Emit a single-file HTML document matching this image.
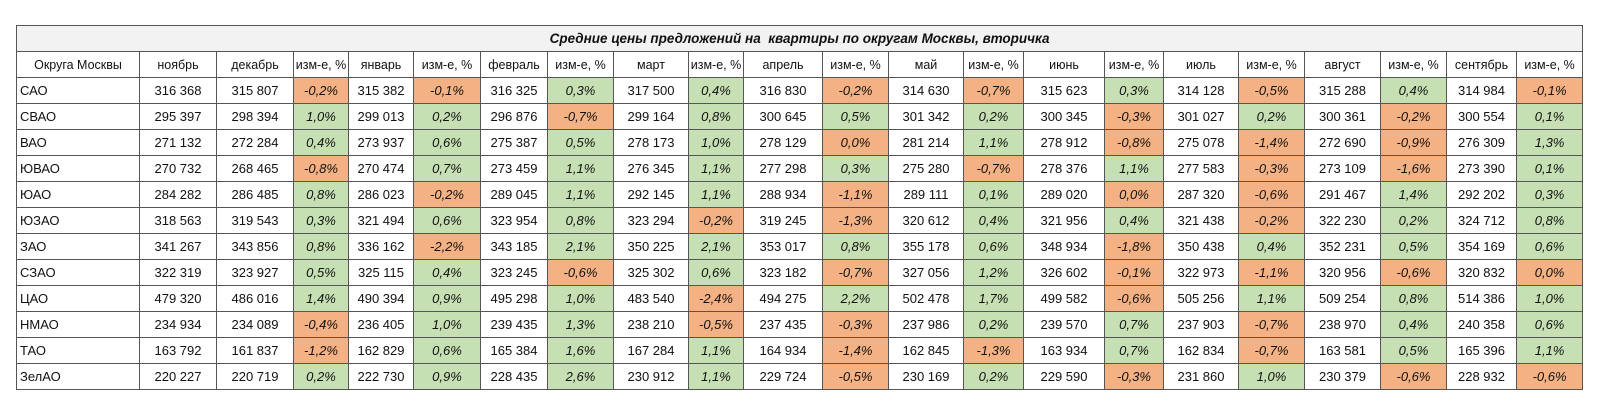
<!DOCTYPE html>
<html><head><meta charset="utf-8"><style>
body{margin:0;background:#fff;width:1600px;height:413px;overflow:hidden}
table{position:absolute;left:16px;top:25px;width:1566px;border-collapse:collapse;table-layout:fixed;font-family:"Liberation Sans",sans-serif;font-size:13px;color:#111}
td{border:1px solid #555;height:25px;padding:0;text-align:center;white-space:nowrap;overflow:hidden}
td.l{text-align:left;padding-left:3px}
.t td{background:#f2f2f2;font-weight:bold;font-style:italic;font-size:13.5px}
.h td{font-size:12.5px}
.o{background:#f4b183;font-style:italic}
.g{background:#c6e0b4;font-style:italic}
</style></head><body>
<table>
<colgroup>
<col style="width:123px"><col style="width:77px"><col style="width:77px"><col style="width:55px"><col style="width:65px"><col style="width:67px"><col style="width:67px"><col style="width:66px"><col style="width:75px"><col style="width:55px"><col style="width:79px"><col style="width:66px"><col style="width:75px"><col style="width:60px"><col style="width:81px"><col style="width:59px"><col style="width:75px"><col style="width:66px"><col style="width:76px"><col style="width:66px"><col style="width:70px"><col style="width:66px">
</colgroup>
<tr class="t"><td colspan="22">Средние цены предложений на&nbsp; квартиры по округам Москвы, вторичка</td></tr>
<tr class="h"><td>Округа Москвы</td><td>ноябрь</td><td>декабрь</td><td>изм-е, %</td><td>январь</td><td>изм-е, %</td><td>февраль</td><td>изм-е, %</td><td>март</td><td>изм-е, %</td><td>апрель</td><td>изм-е, %</td><td>май</td><td>изм-е, %</td><td>июнь</td><td>изм-е, %</td><td>июль</td><td>изм-е, %</td><td>август</td><td>изм-е, %</td><td>сентябрь</td><td>изм-е, %</td></tr>
<tr><td class="l">САО</td><td>316 368</td><td>315 807</td><td class="o">-0,2%</td><td>315 382</td><td class="o">-0,1%</td><td>316 325</td><td class="g">0,3%</td><td>317 500</td><td class="g">0,4%</td><td>316 830</td><td class="o">-0,2%</td><td>314 630</td><td class="o">-0,7%</td><td>315 623</td><td class="g">0,3%</td><td>314 128</td><td class="o">-0,5%</td><td>315 288</td><td class="g">0,4%</td><td>314 984</td><td class="o">-0,1%</td></tr>
<tr><td class="l">СВАО</td><td>295 397</td><td>298 394</td><td class="g">1,0%</td><td>299 013</td><td class="g">0,2%</td><td>296 876</td><td class="o">-0,7%</td><td>299 164</td><td class="g">0,8%</td><td>300 645</td><td class="g">0,5%</td><td>301 342</td><td class="g">0,2%</td><td>300 345</td><td class="o">-0,3%</td><td>301 027</td><td class="g">0,2%</td><td>300 361</td><td class="o">-0,2%</td><td>300 554</td><td class="g">0,1%</td></tr>
<tr><td class="l">ВАО</td><td>271 132</td><td>272 284</td><td class="g">0,4%</td><td>273 937</td><td class="g">0,6%</td><td>275 387</td><td class="g">0,5%</td><td>278 173</td><td class="g">1,0%</td><td>278 129</td><td class="o">0,0%</td><td>281 214</td><td class="g">1,1%</td><td>278 912</td><td class="o">-0,8%</td><td>275 078</td><td class="o">-1,4%</td><td>272 690</td><td class="o">-0,9%</td><td>276 309</td><td class="g">1,3%</td></tr>
<tr><td class="l">ЮВАО</td><td>270 732</td><td>268 465</td><td class="o">-0,8%</td><td>270 474</td><td class="g">0,7%</td><td>273 459</td><td class="g">1,1%</td><td>276 345</td><td class="g">1,1%</td><td>277 298</td><td class="g">0,3%</td><td>275 280</td><td class="o">-0,7%</td><td>278 376</td><td class="g">1,1%</td><td>277 583</td><td class="o">-0,3%</td><td>273 109</td><td class="o">-1,6%</td><td>273 390</td><td class="g">0,1%</td></tr>
<tr><td class="l">ЮАО</td><td>284 282</td><td>286 485</td><td class="g">0,8%</td><td>286 023</td><td class="o">-0,2%</td><td>289 045</td><td class="g">1,1%</td><td>292 145</td><td class="g">1,1%</td><td>288 934</td><td class="o">-1,1%</td><td>289 111</td><td class="g">0,1%</td><td>289 020</td><td class="o">0,0%</td><td>287 320</td><td class="o">-0,6%</td><td>291 467</td><td class="g">1,4%</td><td>292 202</td><td class="g">0,3%</td></tr>
<tr><td class="l">ЮЗАО</td><td>318 563</td><td>319 543</td><td class="g">0,3%</td><td>321 494</td><td class="g">0,6%</td><td>323 954</td><td class="g">0,8%</td><td>323 294</td><td class="o">-0,2%</td><td>319 245</td><td class="o">-1,3%</td><td>320 612</td><td class="g">0,4%</td><td>321 956</td><td class="g">0,4%</td><td>321 438</td><td class="o">-0,2%</td><td>322 230</td><td class="g">0,2%</td><td>324 712</td><td class="g">0,8%</td></tr>
<tr><td class="l">ЗАО</td><td>341 267</td><td>343 856</td><td class="g">0,8%</td><td>336 162</td><td class="o">-2,2%</td><td>343 185</td><td class="g">2,1%</td><td>350 225</td><td class="g">2,1%</td><td>353 017</td><td class="g">0,8%</td><td>355 178</td><td class="g">0,6%</td><td>348 934</td><td class="o">-1,8%</td><td>350 438</td><td class="g">0,4%</td><td>352 231</td><td class="g">0,5%</td><td>354 169</td><td class="g">0,6%</td></tr>
<tr><td class="l">СЗАО</td><td>322 319</td><td>323 927</td><td class="g">0,5%</td><td>325 115</td><td class="g">0,4%</td><td>323 245</td><td class="o">-0,6%</td><td>325 302</td><td class="g">0,6%</td><td>323 182</td><td class="o">-0,7%</td><td>327 056</td><td class="g">1,2%</td><td>326 602</td><td class="o">-0,1%</td><td>322 973</td><td class="o">-1,1%</td><td>320 956</td><td class="o">-0,6%</td><td>320 832</td><td class="o">0,0%</td></tr>
<tr><td class="l">ЦАО</td><td>479 320</td><td>486 016</td><td class="g">1,4%</td><td>490 394</td><td class="g">0,9%</td><td>495 298</td><td class="g">1,0%</td><td>483 540</td><td class="o">-2,4%</td><td>494 275</td><td class="g">2,2%</td><td>502 478</td><td class="g">1,7%</td><td>499 582</td><td class="o">-0,6%</td><td>505 256</td><td class="g">1,1%</td><td>509 254</td><td class="g">0,8%</td><td>514 386</td><td class="g">1,0%</td></tr>
<tr><td class="l">НМАО</td><td>234 934</td><td>234 089</td><td class="o">-0,4%</td><td>236 405</td><td class="g">1,0%</td><td>239 435</td><td class="g">1,3%</td><td>238 210</td><td class="o">-0,5%</td><td>237 435</td><td class="o">-0,3%</td><td>237 986</td><td class="g">0,2%</td><td>239 570</td><td class="g">0,7%</td><td>237 903</td><td class="o">-0,7%</td><td>238 970</td><td class="g">0,4%</td><td>240 358</td><td class="g">0,6%</td></tr>
<tr><td class="l">ТАО</td><td>163 792</td><td>161 837</td><td class="o">-1,2%</td><td>162 829</td><td class="g">0,6%</td><td>165 384</td><td class="g">1,6%</td><td>167 284</td><td class="g">1,1%</td><td>164 934</td><td class="o">-1,4%</td><td>162 845</td><td class="o">-1,3%</td><td>163 934</td><td class="g">0,7%</td><td>162 834</td><td class="o">-0,7%</td><td>163 581</td><td class="g">0,5%</td><td>165 396</td><td class="g">1,1%</td></tr>
<tr><td class="l">ЗелАО</td><td>220 227</td><td>220 719</td><td class="g">0,2%</td><td>222 730</td><td class="g">0,9%</td><td>228 435</td><td class="g">2,6%</td><td>230 912</td><td class="g">1,1%</td><td>229 724</td><td class="o">-0,5%</td><td>230 169</td><td class="g">0,2%</td><td>229 590</td><td class="o">-0,3%</td><td>231 860</td><td class="g">1,0%</td><td>230 379</td><td class="o">-0,6%</td><td>228 932</td><td class="o">-0,6%</td></tr>
</table>
</body></html>
